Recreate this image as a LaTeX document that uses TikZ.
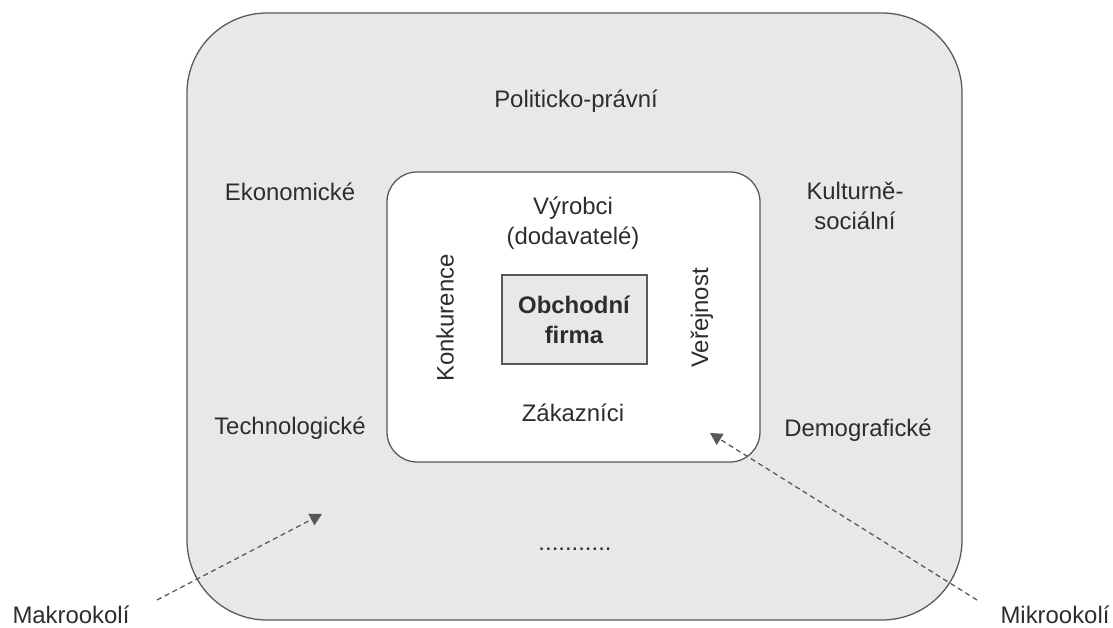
\documentclass[tikz,border=0pt]{standalone}
\usepackage{fontspec}
\setmainfont{Liberation Sans}
\usetikzlibrary{arrows.meta}
\definecolor{envgray}{RGB}{232,232,232}
\definecolor{envline}{RGB}{88,88,88}
\definecolor{envtext}{RGB}{45,45,45}
\tikzset{
  envlabel/.style={text=envtext,align=center,inner sep=0pt},
  pointer/.style={draw=envline,line width=.9pt,dash pattern=on 3.6pt off 2.6pt,
    -{Triangle[length=.3cm,width=.32cm]}}
}

\begin{document}
\begin{tikzpicture}[x=.025cm,y=-.025cm,font=\fontsize{17}{21}\selectfont]
    \useasboundingbox (0,0) rectangle (1113,627);
    \filldraw[fill=envgray,draw=envline,line width=.9pt,rounded corners=2cm] (187,13) rectangle (962,620);
    \filldraw[fill=white,draw=envline,line width=.9pt,rounded corners=.75cm] (387,172) rectangle (760,462);
    \filldraw[fill=envgray,draw=envline,line width=.9pt] (502,275) rectangle (647,364);
    \node[envlabel] (politicka) at (576,101) {Politicko-právní};
    \node[envlabel] (ekonomicke) at (290,192) {Ekonomické};
    \node[envlabel] (kulturni) at (855,206) {Kulturně-\\sociální};
    \node[envlabel] (technologicke) at (290,428) {Technologické};
    \node[envlabel] (demograficke) at (858,430) {Demografické};
    \node[envlabel,anchor=base] (dalsi) at (575,550) {...........};
    \node[envlabel] (vyrobci) at (573,223) {Výrobci\\(dodavatelé)};
    \node[envlabel,rotate=90] (konkurence) at (445,318) {Konkurence};
    \node[envlabel,rotate=90] (verejnost) at (702,318) {Veřejnost};
    \node[envlabel,font=\fontsize{17}{21}\selectfont\bfseries] (firma) at (574,320) {Obchodní\\firma};
    \node[envlabel] (zakaznici) at (573,413) {Zákazníci};
    \node[envlabel,anchor=base] (makro) at (71,623) {Makrookolí};
    \node[envlabel,anchor=base] (mikro) at (1055,623) {Mikrookolí};
    \coordinate (makrostart) at (157,600);
    \coordinate (makrotip) at (322,514);
    \coordinate (mikrostart) at (977,600);
    \coordinate (mikrotip) at (710,433);
    \draw[pointer] (makrostart) -- (makrotip);
    \draw[pointer] (mikrostart) -- (mikrotip);
\end{tikzpicture}
\end{document}
